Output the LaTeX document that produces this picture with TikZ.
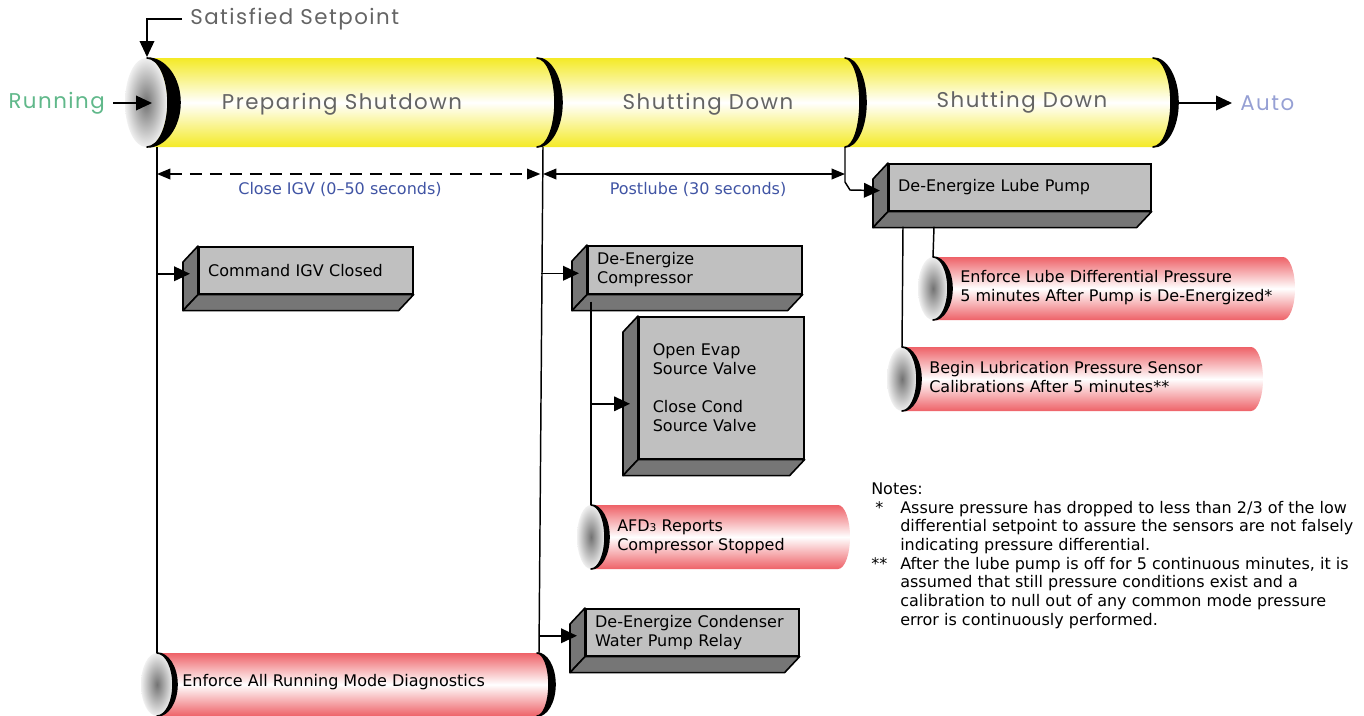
\documentclass[tikz,border=0pt]{standalone}
\usepackage{fontspec}
\setmainfont{DejaVu Sans}
\newfontfamily\thinfont{Poppins}[LetterSpace=7]
\usetikzlibrary{arrows.meta,calc,positioning}

\definecolor{tubeyellow}{RGB}{244,234,38}
\definecolor{tubered}{RGB}{238,98,104}
\definecolor{boxface}{RGB}{192,192,192}
\definecolor{boxside}{RGB}{118,118,118}
\definecolor{runcol}{RGB}{96,184,138}
\definecolor{autocol}{RGB}{150,160,212}
\definecolor{labcol}{RGB}{64,84,164}
\definecolor{phasecol}{RGB}{100,100,100}

\tikzset{
  conn/.style={line width=1.1pt},
  arr/.style={conn,-{Triangle[length=12pt,width=11pt]}},
  dimarr/.style={conn,{Triangle[length=10pt,width=8pt]}-{Triangle[length=10pt,width=8pt]}},
  gbox/.style={draw,line width=1.2pt,fill=boxface,anchor=north west,align=left,
    inner xsep=7pt,inner ysep=0pt,font=\fontsize{12pt}{14.25pt}\selectfont},
  side/.style={draw,line width=1.2pt,fill=boxside,line join=round},
  phase/.style={font=\thinfont\fontsize{16pt}{18pt}\selectfont,text=phasecol},
  tubetext/.style={anchor=west,inner sep=0pt,align=left,font=\fontsize{12pt}{14.25pt}\selectfont},
  timelbl/.style={text=labcol,font=\fontsize{12pt}{14pt}\selectfont}
}

% crescent edge of a tube: x centre, y top, y bottom, inner and outer x radius
\newcommand\crescent[5]{%
  \filldraw[line width=1.2pt,line join=round] (#1,#2)
    arc[start angle=-90,end angle=90,x radius=#5,y radius={(#3-#2)/2}]
    arc[start angle=90,end angle=-90,x radius=#4,y radius={(#3-#2)/2}] -- cycle;}
% red tube: cap centre x, y top, y bottom, right end x, cap x radius
\newcommand\redtube[5]{%
  \shade[top color=tubered,bottom color=tubered,middle color=white] (#1,#2) -- (#4,#2)
    arc[start angle=-90,end angle=90,x radius=12,y radius={(#3-#2)/2}] -- (#1,#3) -- cycle;
  \shade[inner color=black!55,outer color=black!6] (#1,{(#2+#3)/2}) ellipse[x radius=#5,y radius={(#3-#2)/2}];
  \crescent{#1}{#2}{#3}{#5}{#5+4}}
% dark faces of a grey box
\newcommand\boxsides[1]{%
  \filldraw[side] (#1.north west) -- ++(-15,16) -- ($(#1.south west)+(-15,16)$) -- (#1.south west) -- cycle;
  \filldraw[side] (#1.south west) -- (#1.south east) -- ++(-15,16) -- ($(#1.south west)+(-15,16)$) -- cycle;}

\begin{document}
\begin{tikzpicture}[x=0.75pt,y=-0.75pt]
  \useasboundingbox (0,0) rectangle (1364,715);

  % main tube
  \shade[top color=tubeyellow,bottom color=tubeyellow,middle color=white] (146,58) -- (1153,58)
    arc[start angle=-90,end angle=90,x radius=20,y radius=44.5] -- (146,147) -- cycle;
  \shade[inner color=black!55,outer color=black!6] (146,102.5) ellipse[x radius=21,y radius=44.5];
  \crescent{147}{58}{147}{21}{33}
  \crescent{537}{58}{147}{18}{25}
  \crescent{845}{58}{147}{15}{21}
  \crescent{1153}{58}{147}{18}{25}
  \node[phase] (prep) at (342,104) {Preparing Shutdown};
  \node[phase] (shut1) at (708,104) {Shutting Down};
  \node[phase] (shut2) at (1022,102) {Shutting Down};
  \coordinate (capin) at (152,103);
  \coordinate (captop) at (147,57);
  \coordinate (tubeend) at (1178,103);
  \coordinate (b0) at (157,147);
  \coordinate (b1) at (543,147);
  \coordinate (b2) at (845,147);

  \node[phase,text=runcol,anchor=east,inner xsep=6pt] (run) at (113,103) {Running};
  \node[phase,text=autocol,anchor=west,inner xsep=6pt] (auto) at (1232,103) {Auto};
  \node[phase,anchor=west,inner xsep=6pt] (sat) at (182,19) {Satisfied Setpoint};
  \draw[arr] (run.east) -- (capin);
  \draw[arr] (sat.west) -| (captop);
  \draw[arr] (tubeend) -- (auto.west);

  % time spans
  \coordinate (row) at (0,174);
  \draw[dimarr,dash pattern=on 9pt off 6pt] (b0 |- row) -- ([xshift=-2pt]b1 |- row);
  \draw[dimarr] (b1 |- row) -- (b2 |- row);
  \node[timelbl] (igv) at (340,189) {Close IGV (0--50 seconds)};
  \node[timelbl] (post) at (698,189) {Postlube (30 seconds)};

  % red tubes
  \redtube{591}{505}{569}{838}{14}
  \redtube{933}{257}{320}{1283}{15}
  \redtube{902}{347}{411}{1251}{15}
  \redtube{157}{653}{716}{537}{16}
  \crescent{537}{653}{716}{12}{18}
  \coordinate (afdtop) at (591,505);
  \coordinate (difftop) at (933,257);
  \coordinate (caltop) at (902,347);
  \coordinate (diagL) at (157,653);
  \coordinate (diagR) at (539,653);
  \node[tubetext] (afd) at (617,536.5) {AFD{\footnotesize 3} Reports\\Compressor Stopped};
  \node[tubetext] (diff) at (960,287.5) {Enforce Lube Differential Pressure\\5 minutes After Pump is De-Energized*};
  \node[tubetext] (cal) at (929,377.5) {Begin Lubrication Pressure Sensor\\Calibrations After 5 minutes**};
  \node[tubetext] (diag) at (182,682) {Enforce All Running Mode Diagnostics};

  % grey boxes
  \node[gbox,text width=146.5pt,minimum height=35.25pt] (cmd) at (198,246) {Command IGV Closed};
  \node[gbox,text width=146.5pt,minimum height=36pt] (comp) at (587,245) {De-Energize\\Compressor};
  \node[gbox,inner xsep=10.5pt,text width=102.75pt,minimum height=106.5pt] (valve) at (638,316)
    {Open Evap\\Source Valve\\[14.25pt]Close Cond\\Source Valve};
  \node[gbox,text width=182.5pt,minimum height=35.25pt] (lube) at (888,163) {De-Energize Lube Pump};
  \node[gbox,text width=145.75pt,minimum height=35.25pt] (cond) at (585,608) {De-Energize Condenser\\Water Pump Relay};
  \boxsides{cmd}
  \boxsides{comp}
  \boxsides{valve}
  \boxsides{lube}
  \boxsides{cond}
  \coordinate (cmdin) at ([yshift=-2.6pt]cmd.west);
  \coordinate (compin) at ([yshift=-2.6pt]comp.west);
  \coordinate (condin) at ([yshift=-2.6pt]cond.west);
  \coordinate (lubein) at ([yshift=-2.6pt]lube.west);
  \coordinate (valvein) at ([yshift=-12pt]valve.west);

  % connectors
  \draw[conn] (b0) -- (diagL);
  \draw[conn] (b1) -- (diagR);
  \draw[arr,shorten >=6pt] (b0 |- cmdin) -- (cmdin);
  \draw[arr,shorten >=6pt] (541,0 |- compin) -- (compin);
  \draw[arr,shorten >=6pt] (540,0 |- condin) -- (condin);
  \draw[arr,shorten >=6pt] (b2) -- (845,182) -- (850,190) -- (lubein);
  \draw[conn] ($(comp.south west)+(4,7)$) -- (afdtop);
  \draw[arr,shorten >=6pt] (afdtop |- valvein) -- (valvein);
  \draw[conn] ($(lube.south west)+(15,15)$) -- (caltop);
  \draw[conn] ($(lube.south west)+(46,15)$) -- (difftop);

  % notes
  \node[anchor=north west,inner sep=0pt,font=\fontsize{12pt}{14pt}\selectfont] (notes) at (871,481) {%
    \begin{tabular}{@{}p{21.75pt}@{}l@{}}
      \multicolumn{2}{@{}l}{Notes:}\\
      \hspace{3pt}* & Assure pressure has dropped to less than 2/3 of the low\\
        & differential setpoint to assure the sensors are not falsely\\
        & indicating pressure differential.\\
      {**} & After the lube pump is off for 5 continuous minutes, it is\\
        & assumed that still pressure conditions exist and a\\
        & calibration to null out of any common mode pressure\\
        & error is continuously performed.
    \end{tabular}};
\end{tikzpicture}
\end{document}
